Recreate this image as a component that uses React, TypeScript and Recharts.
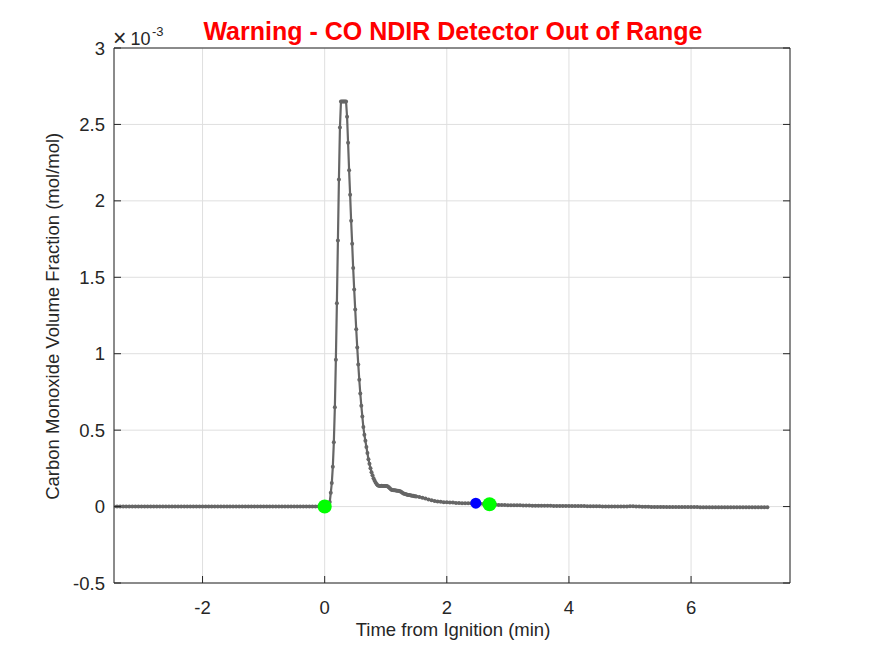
import React from 'react';
import {
  ComposedChart,
  Line,
  Scatter,
  XAxis,
  YAxis,
  CartesianGrid,
} from 'recharts';

// CO volume fraction in units of 1e-3 mol/mol, sampled on uniform time grids (min).
const preIgnitionStart = -3.45;
const coarseStep = 0.05;
const fineStep = 1 / 60;

// Baseline before ignition (every 3 s)
const preIgnitionCO = [
  0, 0, 0, 0, 0, 0, 0, 0, 0, 0,
  0, 0, 0, 0, 0, 0, 0, 0, 0, 0,
  0, 0, 0, 0, 0, 0, 0, 0, 0, 0,
  0, 0, 0, 0, 0, 0, 0, 0, 0, 0,
  0, 0, 0, 0, 0, 0, 0, 0, 0, 0,
  0, 0, 0, 0, 0, 0, 0, 0, 0, 0,
  0, 0, 0, 0, 0, 0, 0, 0, 0,
];

// Ignition transient (every 1 s), clipped at the detector ceiling
const transientStart = 0;
const transientCO = [
  0, 0, 0, 0, 0.005, 0.03, 0.09, 0.154, 0.26, 0.42,
  0.65, 0.96, 1.33, 1.74, 2.14, 2.48, 2.65, 2.65, 2.65, 2.65,
  2.65, 2.65, 2.55, 2.38, 2.2, 2.04, 1.87, 1.72, 1.56, 1.42,
  1.29, 1.16, 1.04, 0.93, 0.83, 0.74, 0.66, 0.59, 0.52, 0.47,
  0.43, 0.39, 0.35, 0.31, 0.28, 0.25, 0.225, 0.205, 0.185, 0.17,
  0.158, 0.148, 0.14, 0.136, 0.135, 0.135, 0.136, 0.135, 0.135, 0.135,
  0.135, 0.134, 0.132, 0.127, 0.12, 0.113, 0.109, 0.108, 0.107, 0.106,
  0.105, 0.104, 0.103, 0.102, 0.1, 0.097, 0.092, 0.087, 0.084, 0.082,
  0.08, 0.078, 0.076, 0.075, 0.074, 0.073, 0.071, 0.07, 0.068, 0.067,
];

// Decay tail (every 3 s)
const tailStart = 1.5;
const tailCO = [
  0.066, 0.063, 0.058, 0.052, 0.046, 0.041, 0.036, 0.033, 0.031, 0.029,
  0.028, 0.027, 0.026, 0.024, 0.023, 0.022, 0.022, 0.022, 0.022, 0.022,
  0.021, 0.019, 0.017, 0.016, 0.015, 0.014, 0.012, 0.011, 0.01, 0.01,
  0.009, 0.009, 0.008, 0.008, 0.008, 0.007, 0.007, 0.007, 0.006, 0.006,
  0.006, 0.005, 0.005, 0.005, 0.005, 0.004, 0.004, 0.004, 0.004, 0.004,
  0.004, 0.003, 0.003, 0.003, 0.003, 0.003, 0.002, 0.002, 0.002, 0.002,
  0.002, 0.001, 0.001, 0.001, 0.001, 0.001, 0, 0, 0.001, 0.001,
  0.002, 0.002, 0.001, 0, -0.001, -0.001, -0.001, -0.002, -0.002, -0.002,
  -0.002, -0.002, -0.003, -0.003, -0.003, -0.003, -0.003, -0.003, -0.003, -0.003,
  -0.003, -0.003, -0.003, -0.004, -0.004, -0.004, -0.004, -0.004, -0.004, -0.004,
  -0.004, -0.004, -0.004, -0.004, -0.004, -0.004, -0.004, -0.004, -0.004, -0.004,
  -0.004, -0.004, -0.004, -0.004, -0.004, -0.004,
];

// Event markers: ignition / end of test (green), flame-out (blue)
const eventTimesGreen = [0, 2.7];
const eventValuesGreen = [0, 0.015];
const eventTimesBlue = [2.475];
const eventValuesBlue = [0.022];

const xTicks = [-2, 0, 2, 4, 6];
const yTicks = [-0.5, 0, 0.5, 1, 1.5, 2, 2.5, 3];
const xDomain: [number, number] = [-3.45, 7.62];
const yDomain: [number, number] = [-0.5, 3];

const toPoints = (start: number, step: number, values: number[]) =>
  values.map((co, i) => ({ t: +(start + i * step).toFixed(4), co }));

const series = [
  ...toPoints(preIgnitionStart, coarseStep, preIgnitionCO),
  ...toPoints(transientStart, fineStep, transientCO),
  ...toPoints(tailStart, coarseStep, tailCO),
];

const greenEvents = eventTimesGreen.map((t, i) => ({ t, co: eventValuesGreen[i] }));
const blueEvents = eventTimesBlue.map((t, i) => ({ t, co: eventValuesBlue[i] }));

const FONT = '"Liberation Sans", Arial, Helvetica, sans-serif';
const AXIS = '#262626';
const TICK_FONT = 18.5;
const TICK_LEN = 7;
const X_GAP = 18;
const Y_GAP = 9;

// Inward-pointing tick marks, drawn alongside the labels
const BottomTick = (props: any) => {
  const { x, y, payload } = props;
  const axisY = y - X_GAP;
  return (
    <g>
      <line x1={x} y1={axisY} x2={x} y2={axisY - TICK_LEN} stroke={AXIS} strokeWidth={1} />
      <text
        x={x}
        y={y}
        dy="0.71em"
        textAnchor="middle"
        fontSize={TICK_FONT}
        fontFamily={FONT}
        fill={AXIS}
      >
        {String(payload.value)}
      </text>
    </g>
  );
};

const LeftTick = (props: any) => {
  const { x, y, payload } = props;
  const axisX = x + Y_GAP;
  return (
    <g>
      <line x1={axisX} y1={y} x2={axisX + TICK_LEN} y2={y} stroke={AXIS} strokeWidth={1} />
      <text
        x={x}
        y={y}
        dy="0.355em"
        textAnchor="end"
        fontSize={TICK_FONT}
        fontFamily={FONT}
        fill={AXIS}
      >
        {String(payload.value)}
      </text>
    </g>
  );
};

const TopTick = (props: any) => (
  <line
    x1={props.x}
    y1={props.y}
    x2={props.x}
    y2={props.y + TICK_LEN}
    stroke={AXIS}
    strokeWidth={1}
  />
);

const RightTick = (props: any) => (
  <line
    x1={props.x}
    y1={props.y}
    x2={props.x - TICK_LEN}
    y2={props.y}
    stroke={AXIS}
    strokeWidth={1}
  />
);

const dotShape = (r: number, fill: string) => (props: any) => (
  <circle cx={props.cx} cy={props.cy} r={r} fill={fill} stroke="none" />
);

export default function App() {
  return (
    <div
      style={{
        position: 'absolute',
        left: 0,
        top: 0,
        width: 875,
        height: 656,
        background: '#ffffff',
        fontFamily: FONT,
      }}
    >
      <ComposedChart
        width={875}
        height={656}
        margin={{ top: 47, right: 84, bottom: 43, left: 0 }}
      >
        <CartesianGrid stroke="#dfdfdf" strokeWidth={1} />
        <XAxis
          type="number"
          dataKey="t"
          domain={xDomain}
          ticks={xTicks}
          allowDataOverflow
          height={30}
          stroke={AXIS}
          tickLine={false}
          tickSize={0}
          tickMargin={X_GAP}
          tick={<BottomTick />}
        />
        <XAxis
          xAxisId="top"
          orientation="top"
          type="number"
          domain={xDomain}
          ticks={xTicks}
          allowDataOverflow
          height={1}
          stroke={AXIS}
          tickLine={false}
          tickSize={0}
          tickMargin={0}
          tick={<TopTick />}
        />
        <YAxis
          type="number"
          domain={yDomain}
          ticks={yTicks}
          allowDataOverflow
          width={114}
          stroke={AXIS}
          tickLine={false}
          tickSize={0}
          tickMargin={Y_GAP}
          tick={<LeftTick />}
        />
        <YAxis
          yAxisId="right"
          orientation="right"
          type="number"
          domain={yDomain}
          ticks={yTicks}
          allowDataOverflow
          width={1}
          stroke={AXIS}
          tickLine={false}
          tickSize={0}
          tickMargin={0}
          tick={<RightTick />}
        />
        <Line
          data={series}
          dataKey="co"
          type="linear"
          stroke="#666666"
          strokeWidth={2.2}
          dot={{ r: 2, fill: '#666666', stroke: 'none' }}
          isAnimationActive={false}
        />
        <Scatter
          data={blueEvents}
          dataKey="co"
          shape={dotShape(5.5, '#0000ff')}
          isAnimationActive={false}
        />
        <Scatter
          data={greenEvents}
          dataKey="co"
          shape={dotShape(7, '#00ff00')}
          isAnimationActive={false}
        />
      </ComposedChart>

      {/* Title */}
      <div
        style={{
          position: 'absolute',
          left: 153,
          top: 19,
          width: 600,
          textAlign: 'center',
          fontSize: 25,
          lineHeight: '25px',
          fontWeight: 'bold',
          color: '#ff0000',
          whiteSpace: 'nowrap',
        }}
      >
        Warning - CO NDIR Detector Out of Range
      </div>

      {/* Exponent of the y axis */}
      <span
        style={{
          position: 'absolute',
          left: 113,
          top: 46 - 23 * 0.8465,
          fontSize: 23,
          lineHeight: '23px',
          color: AXIS,
          whiteSpace: 'nowrap',
        }}
      >
        ×
      </span>
      <span
        style={{
          position: 'absolute',
          left: 130.5,
          top: 45 - 18 * 0.8465,
          fontSize: 18,
          lineHeight: '18px',
          color: AXIS,
          whiteSpace: 'nowrap',
        }}
      >
        10
      </span>
      <span
        style={{
          position: 'absolute',
          left: 152,
          top: 36 - 13 * 0.8465,
          fontSize: 13,
          lineHeight: '13px',
          color: AXIS,
          whiteSpace: 'nowrap',
        }}
      >
        -3
      </span>

      {/* Axis labels */}
      <div
        style={{
          position: 'absolute',
          left: 153,
          top: 637 - 18.5 * 0.8465,
          width: 600,
          textAlign: 'center',
          fontSize: 18.5,
          lineHeight: '18.5px',
          color: AXIS,
          whiteSpace: 'nowrap',
        }}
      >
        Time from Ignition (min)
      </div>
      <div
        style={{
          position: 'absolute',
          left: 52.6 - 250,
          top: 316 - 9.25,
          width: 500,
          height: 18.5,
          textAlign: 'center',
          fontSize: 18.5,
          lineHeight: '18.5px',
          color: AXIS,
          whiteSpace: 'nowrap',
          transform: 'rotate(-90deg)',
        }}
      >
        Carbon Monoxide Volume Fraction (mol/mol)
      </div>
    </div>
  );
}
